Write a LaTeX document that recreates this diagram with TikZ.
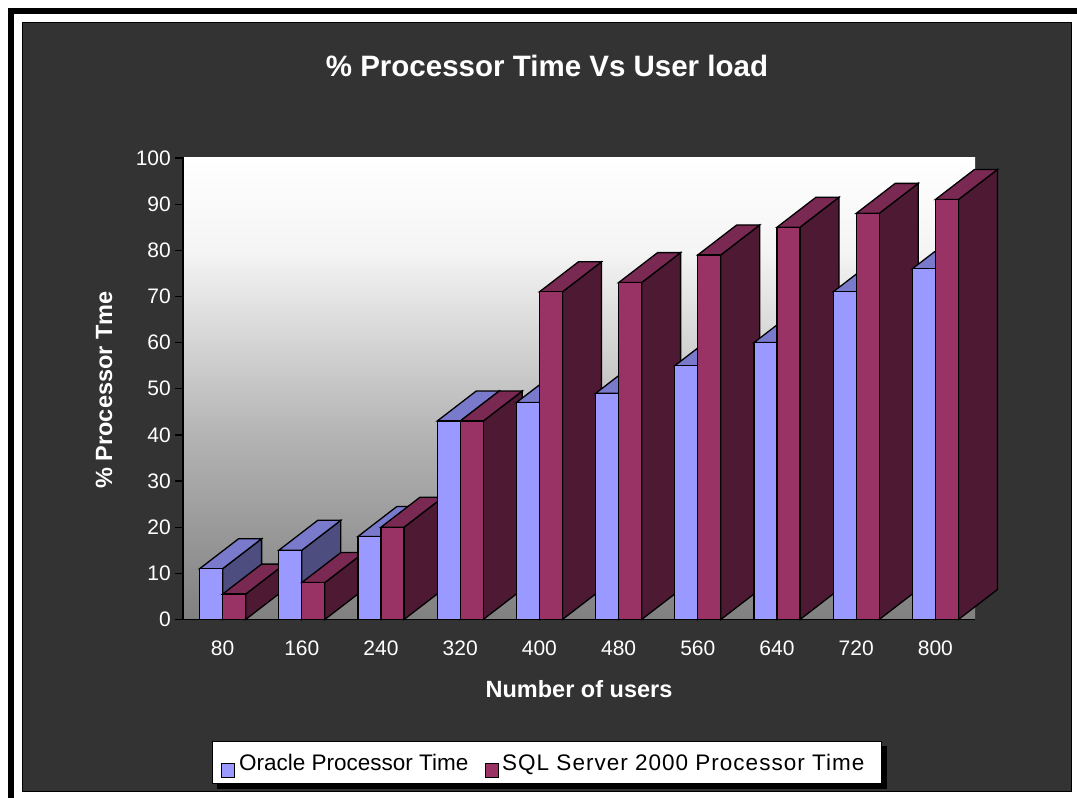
\documentclass[tikz,border=0pt]{standalone}
\usepackage{fontspec}
\setmainfont{Liberation Sans}
\definecolor{bgdark}{HTML}{333333}
\definecolor{orF}{HTML}{9999FF}
\definecolor{orT}{HTML}{7A7ACC}
\definecolor{orS}{HTML}{4D4D80}
\definecolor{sqF}{HTML}{993366}
\definecolor{sqT}{HTML}{7A2952}
\definecolor{sqS}{HTML}{4D1933}
\definecolor{wallA}{HTML}{808080}
\definecolor{wallB}{HTML}{B4B4B4}
\definecolor{wallC}{HTML}{F5F5F5}
\pgfdeclareverticalshading{wallshade}{100bp}{color(0bp)=(wallA); color(25bp)=(wallA); color(45bp)=(wallB); color(65bp)=(wallC); color(75bp)=(white); color(100bp)=(white)}
\newcommand\drawbar[4]{%
  \pgfmathsetmacro\T{619.5-4.615*#3}%
  \filldraw[barline,fill=#4S] (#2,619.5) -- (#2,\T) -- ++(39,-30) -- (#2+39,589.5) -- cycle;
  \filldraw[barline,fill=#4T] (#1,\T) -- (#2,\T) -- ++(39,-30) -- (#1+39,\T-30) -- cycle;
  \filldraw[barline,fill=#4F] (#1,619.5) rectangle (#2,\T);
}
\tikzset{
  barline/.style={draw=black,line width=1.3pt,line join=miter},
  ticklab/.style={text=white,font=\fontsize{21}{24}\selectfont,inner sep=0pt},
  axtitle/.style={text=white,font=\bfseries\fontsize{23.5}{27}\selectfont,inner sep=0pt},
  legtext/.style={text=black,font=\fontsize{22.5}{26}\selectfont,inner sep=0pt,anchor=base west},
}
\begin{document}
\begin{tikzpicture}[x=1pt,y=-1pt]
\useasboundingbox (0,0) rectangle (1077,798);
\fill[white] (0,0) rectangle (1077,798);
% outer frame
\fill[black] (8,8) rectangle (14,798);
\fill[black] (8,8) rectangle (1077,14);
% chart area
\filldraw[fill=bgdark,draw=black,line width=1pt] (22,22) rectangle (1071,791);
% title
\node[text=white,font=\bfseries\fontsize{29.5}{34}\selectfont,inner sep=0pt,anchor=base] (title) at (547,76) {\%~Processor Time Vs User load};
% wall
\fill[shading=wallshade] (183,157) rectangle (975,619.5);
% axes
\draw[black,line width=1.2pt] (183,157) -- (183,619.5);
\draw[black,line width=1.2pt] (175,619.5) -- (975,619.5);
\foreach \v in {0,10,...,100}{
  \pgfmathsetmacro\yy{619.5-4.615*\v}
  \draw[black,line width=1.2pt] (175,\yy) -- (183,\yy);
  \node[ticklab,anchor=east] (t\v) at (171,\yy) {\v};
}
% bars
\foreach \i/\o/\s in {0/11/5.5,1/15/8,2/18/20,3/43/43,4/47/71,5/49/73,6/55/79,7/60/85,8/71/88,9/76/91}{
  \pgfmathsetmacro\c{183+79.2*(\i+0.5)}
  \pgfmathtruncatemacro\lab{80*(\i+1)}
  \drawbar{\c-23}{\c}{\o}{or}
  \drawbar{\c}{\c+23}{\s}{sq}
  \node[ticklab,anchor=base] (c\i) at (\c,655) {\lab};
}
% axis titles
\node[axtitle,anchor=base] (xtitle) at (579,697) {Number of users};
\node[axtitle,anchor=base,rotate=90] (ytitle) at (112,390) {\%~Processor Tme};
% legend
\fill[black] (217,746) rectangle (887,789);
\filldraw[fill=white,draw=black,line width=1pt] (212,741) rectangle (881,783);
\filldraw[fill=orF,draw=black,line width=1pt] (221,763) rectangle (234,777);
\node[legtext] (l1) at (239,770) {Oracle Processor Time};
\filldraw[fill=sqF,draw=black,line width=1pt] (485,763) rectangle (498,777);
\node[legtext,font=\fontsize{22.5}{26}\selectfont\addfontfeature{LetterSpace=4.5}] (l2) at (502,770) {SQL Server 2000 Processor Time};
\end{tikzpicture}
\end{document}
